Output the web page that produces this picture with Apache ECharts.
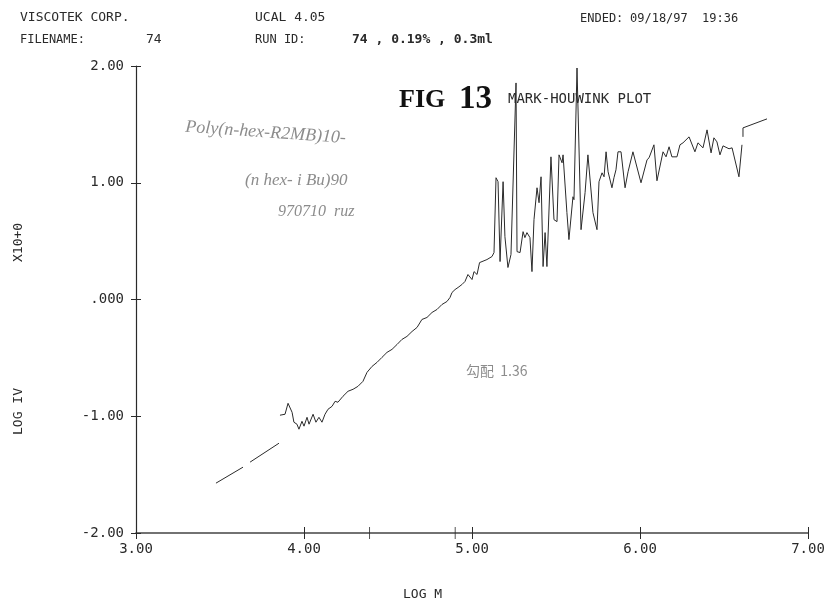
<!DOCTYPE html>
<html>
<head>
<meta charset="utf-8">
<script src="https://cdn.jsdelivr.net/npm/echarts@6/dist/echarts.min.js"></script>
<style>html,body{margin:0;padding:0;background:#fff}#c{width:828px;height:606px}</style>
</head>
<body>
<div id="c"></div>
<script>
// ---- data (log M, log IV) ----
const dash1LogM = [3.476, 3.637];
const dash1LogIV = [-1.573, -1.436];
const dash2LogM = [3.679, 3.851];
const dash2LogIV = [-1.393, -1.231];

const mainLogM = [
  3.857,3.887,3.905,3.929,3.940,3.958,3.970,3.988,4.000,4.018,4.030,4.054,4.071,4.089,4.107,4.125,4.143,4.167,4.185,4.202,
  4.232,4.262,4.292,4.321,4.351,4.375,4.405,4.435,4.464,4.494,4.524,4.554,4.583,4.613,4.643,4.673,4.702,4.732,4.762,4.792,
  4.821,4.851,4.869,4.881,4.899,4.917,4.940,4.958,4.976,5.000,5.012,5.030,5.045,5.089,5.119,5.131,5.143,5.155,5.167,5.185,
  5.196,5.214,5.232,5.238,5.262,5.268,5.286,5.304,5.315,5.327,5.345,5.357,5.369,5.387,5.399,5.411,5.423,5.435,5.446,5.470,
  5.488,5.506,5.518,5.536,5.542,5.565,5.577,5.601,5.607,5.625,5.649,5.673,5.690,5.720,5.726,5.744,5.756,5.774,5.786,5.798,
  5.810,5.833,5.845,5.857,5.869,5.887,5.911,5.929,5.958,6.006,6.042,6.054,6.083,6.101,6.137,6.155,6.173,6.190,6.220,6.238,
  6.256,6.292,6.327,6.345,6.375,6.399,6.423,6.440,6.458,6.476,6.494,6.530,6.548,6.589,6.607
];
const mainLogIV = [
  -0.991,-0.983,-0.889,-0.966,-1.051,-1.068,-1.111,-1.043,-1.085,-1.009,-1.068,-0.983,-1.051,-1.009,-1.051,-0.983,-0.940,-0.915,-0.872,-0.880,
  -0.829,-0.786,-0.769,-0.744,-0.701,-0.624,-0.573,-0.538,-0.496,-0.453,-0.427,-0.385,-0.342,-0.316,-0.274,-0.239,-0.171,-0.154,-0.111,-0.085,
  -0.043,-0.017,0.017,0.060,0.085,0.103,0.128,0.154,0.214,0.171,0.239,0.214,0.316,0.342,0.368,0.402,1.043,1.009,0.325,1.009,
  0.538,0.274,0.385,0.402,1.855,0.410,0.402,0.581,0.530,0.573,0.530,0.239,0.684,0.957,0.829,1.051,0.282,0.573,0.282,1.222,
  0.684,0.667,1.239,1.171,1.239,0.744,0.513,0.880,0.855,1.983,0.598,0.915,1.239,0.744,0.735,0.598,1.009,1.085,1.051,1.265,
  1.094,0.957,1.043,1.111,1.265,1.265,0.957,1.094,1.265,1.000,1.197,1.214,1.325,1.017,1.265,1.222,1.308,1.222,1.222,1.325,
  1.342,1.393,1.265,1.342,1.299,1.453,1.256,1.385,1.350,1.239,1.316,1.291,1.299,1.051,1.325
];
const tailLogM = [6.613, 6.613, 6.756];
const tailLogIV = [1.393, 1.470, 1.547];

// extra marks on the x axis
const extraTickLogM = [4.39, 4.90];

// tick labels
const yTickValues = [-2, -1, 0, 1, 2];
const yTickLabels = ['-2.00', '-1.00', '.000', '1.00', '2.00'];
const xTickValues = [3, 4, 5, 6, 7];
const xTickLabels = ['3.00', '4.00', '5.00', '6.00', '7.00'];

const pairs = (a, b) => a.map((v, i) => [v, b[i]]);

const chart = echarts.init(document.getElementById('c'), null, {renderer: 'canvas'});
const ink = '#2a2a2a';
const tickFont = {fontFamily: 'DejaVu Sans Mono', fontSize: 14, color: ink};
const lineSeries = (d) => ({
  type: 'line', data: d, showSymbol: false, symbol: 'none', silent: true,
  lineStyle: {color: ink, width: 1}, animation: false, xAxisIndex: 0, yAxisIndex: 0
});

const option = {
  animation: false,
  grid: {left: 136, right: 20, top: 66, bottom: 73, containLabel: false},
  xAxis: [{
    type: 'value', min: 3, max: 7, interval: 1, position: 'bottom',
    axisLine: {onZero: false, lineStyle: {color: '#444', width: 1.6}},
    axisTick: {show: true, length: 6, lineStyle: {color: ink}},
    splitLine: {show: false},
    axisLabel: Object.assign({margin: 9, formatter: v => xTickLabels[xTickValues.indexOf(v)] || ''}, tickFont)
  }, {
    type: 'value', min: 3, max: 7, interval: 1, position: 'bottom',
    axisLine: {show: false, onZero: false},
    axisTick: {show: true, inside: true, length: 6, lineStyle: {color: ink}},
    axisLabel: {show: false}, splitLine: {show: false}
  }],
  yAxis: [{
    type: 'value', min: -2, max: 2, interval: 1, position: 'left',
    axisLine: {show: true, onZero: false, lineStyle: {color: ink, width: 1.2}},
    axisTick: {show: true, length: 5, lineStyle: {color: ink}},
    splitLine: {show: false},
    axisLabel: Object.assign({margin: 12, formatter: v => yTickLabels[yTickValues.indexOf(v)] || ''}, tickFont)
  }, {
    type: 'value', min: -2, max: 2, interval: 1, position: 'left',
    axisLine: {show: false, onZero: false},
    axisTick: {show: true, inside: true, length: 5, lineStyle: {color: ink}},
    axisLabel: {show: false}, splitLine: {show: false}
  }],
  series: [
    lineSeries(pairs(dash1LogM, dash1LogIV)),
    lineSeries(pairs(dash2LogM, dash2LogIV)),
    lineSeries(pairs(mainLogM, mainLogIV)),
    lineSeries(pairs(tailLogM, tailLogIV)),
    {
      type: 'scatter', data: extraTickLogM.map(v => [v, -2]), symbol: 'rect', symbolSize: [1, 12],
      itemStyle: {color: ink}, clip: false, silent: true
    }
  ],
  graphic: [
    // header
    {type: 'text', left: 20, top: 11, style: {text: 'VISCOTEK CORP.', font: '13px "DejaVu Sans Mono"', fill: ink}},
    {type: 'text', left: 255, top: 11, style: {text: 'UCAL 4.05', font: '13px "DejaVu Sans Mono"', fill: ink}},
    {type: 'text', left: 580, top: 13, style: {text: 'ENDED:', font: '12px "DejaVu Sans Mono"', fill: ink}},
    {type: 'text', left: 630, top: 13, style: {text: '09/18/97', font: '12px "DejaVu Sans Mono"', fill: ink}},
    {type: 'text', left: 702, top: 13, style: {text: '19:36', font: '12px "DejaVu Sans Mono"', fill: ink}},
    {type: 'text', left: 20, top: 34, style: {text: 'FILENAME:', font: '12px "DejaVu Sans Mono"', fill: ink}},
    {type: 'text', left: 146, top: 33, style: {text: '74', font: '13px "DejaVu Sans Mono"', fill: ink}},
    {type: 'text', left: 255, top: 34, style: {text: 'RUN ID:', font: '12px "DejaVu Sans Mono"', fill: ink}},
    {type: 'text', left: 352, top: 33, style: {text: '74 , 0.19% , 0.3ml', font: 'bold 13px "DejaVu Sans Mono"', fill: ink}},
    // figure label
    {type: 'text', left: 399, top: 87, style: {text: 'FIG', font: 'bold 26px "Liberation Serif"', fill: '#111'}},
    {type: 'text', left: 459, top: 83, style: {text: '13', font: 'bold 33px "Liberation Serif"', fill: '#111'}},
    {type: 'text', left: 508, top: 92, style: {text: 'MARK-HOUWINK PLOT', font: '14px "DejaVu Sans Mono"', fill: ink}},
    // handwritten notes
    {type: 'text', x: 186, y: 118, rotation: -0.07, style: {text: 'Poly(n-hex-R2MB)10-', font: 'italic 18px "Liberation Serif"', fill: '#8c8c8c'}},
    {type: 'text', left: 245, top: 172, style: {text: '(n hex- i Bu)90', font: 'italic 17px "Liberation Serif"', fill: '#8c8c8c'}},
    {type: 'text', left: 278, top: 204, style: {text: '970710  ruz', font: 'italic 16px "Liberation Serif"', fill: '#8c8c8c'}},
    {type: 'text', left: 466, top: 364, style: {text: '勾配  1.36', font: '14px "Noto Sans CJK JP"', fill: '#8c8c8c'}},
    // axis titles
    {type: 'text', left: 403, top: 588, style: {text: 'LOG M', font: '13px "DejaVu Sans Mono"', fill: ink}},
    {type: 'text', x: 12, y: 262, rotation: Math.PI / 2, style: {text: 'X10+0', font: '13px "DejaVu Sans Mono"', fill: ink}},
    {type: 'text', x: 12, y: 435, rotation: Math.PI / 2, style: {text: 'LOG IV', font: '13px "DejaVu Sans Mono"', fill: ink}}
  ]
};
chart.setOption(option);
</script>
</body>
</html>
